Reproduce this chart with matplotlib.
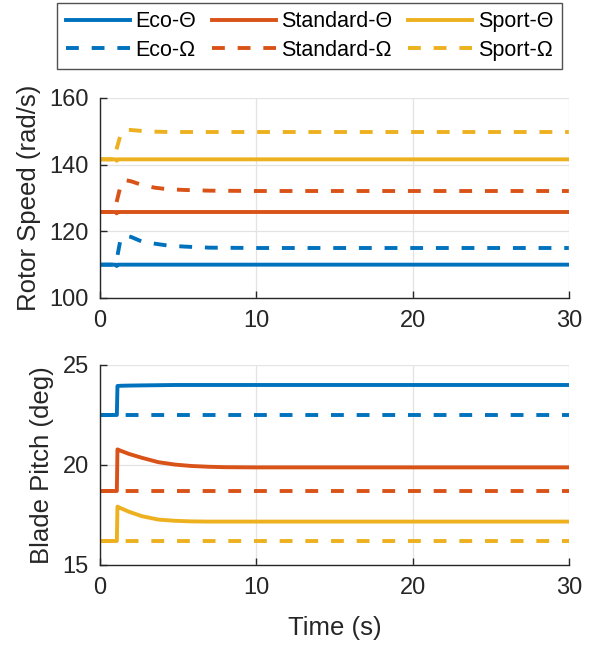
import numpy as np
import matplotlib
matplotlib.use("Agg")
import matplotlib.pyplot as plt

plt.rcParams['font.family'] = ['Liberation Sans', 'DejaVu Sans']

# Data
modes = ["Eco", "Standard", "Sport"]
colors = ["#0072BD", "#D95319", "#EDB120"]

# Rotor speed (rad/s)
t_theta_rs = [0, 1.0, 1.07, 1.15, 30]
theta_rs = {
    "Eco": [110.0, 110.0, 109.6, 110.0, 110.0],
    "Standard": [125.8, 125.8, 125.4, 125.8, 125.8],
    "Sport": [141.6, 141.6, 141.2, 141.6, 141.6],
}
t_omega_rs = [0, 1.0, 1.05, 1.3, 1.6, 2.0, 2.7, 3.5, 4.4, 5.5, 7, 10, 30]
omega_rs = {
    "Eco": [110.0, 110.0, 111.0, 117.2, 118.7, 118.3, 116.9, 116.3, 115.7, 115.4, 115.1, 115.0, 115.0],
    "Standard": [125.8, 125.8, 128.5, 133.3, 135.4, 135.0, 133.9, 133.1, 132.6, 132.4, 132.2, 132.1, 132.1],
    "Sport": [141.6, 141.6, 144.5, 148.6, 150.5, 150.4, 150.1, 149.9, 149.8, 149.8, 149.8, 149.8, 149.8],
}

# Blade pitch (deg)
t_pitch = [0, 1.08, 1.12, 1.3, 1.83, 2.68, 3.74, 4.8, 5.86, 7, 8, 10, 30]
theta_pitch = {
    "Eco": [22.5, 22.5, 23.95, 23.96, 23.97, 23.98, 23.99, 24.0, 24.0, 24.0, 24.0, 24.0, 24.0],
    "Standard": [18.7, 18.7, 20.78, 20.72, 20.56, 20.36, 20.14, 20.02, 19.95, 19.91, 19.89, 19.88, 19.88],
    "Sport": [16.2, 16.2, 17.92, 17.85, 17.67, 17.44, 17.27, 17.21, 17.18, 17.17, 17.17, 17.17, 17.17],
}
t_omega_pitch = [0, 30]
omega_pitch = {
    "Eco": [22.5, 22.5],
    "Standard": [18.7, 18.7],
    "Sport": [16.2, 16.2],
}

fig = plt.figure(figsize=(5.95, 6.46), dpi=100)
ax1 = fig.add_axes([0.168, 0.5387, 0.788, 0.3096])
ax2 = fig.add_axes([0.168, 0.1254, 0.788, 0.3096])

lw = 2.8
dash = (3.3, 3.3)
txt = "#262626"
handles = []
for m, c in zip(modes, colors):
    h2, = ax1.plot(t_omega_rs, omega_rs[m], color=c, lw=lw, ls=(0, dash), label=m + "-Ω")
    h1, = ax1.plot(t_theta_rs, theta_rs[m], color=c, lw=lw, label=m + "-Θ")
    ax2.plot(t_omega_pitch, omega_pitch[m], color=c, lw=lw, ls=(0, dash))
    ax2.plot(t_pitch, theta_pitch[m], color=c, lw=lw)
    handles += [h1, h2]

for ax, ylim, yt in [(ax1, (100, 160), [100, 120, 140, 160]), (ax2, (15, 25), [15, 20, 25])]:
    ax.set_xlim(0, 30)
    ax.set_ylim(*ylim)
    ax.set_xticks([0, 10, 20, 30])
    ax.set_yticks(yt)
    ax.grid(True, color="#e3e3e3", lw=0.9)
    ax.set_axisbelow(True)
    for s in ["top", "right"]:
        ax.spines[s].set_visible(False)
    for s in ["left", "bottom"]:
        ax.spines[s].set_color(txt)
        ax.spines[s].set_linewidth(1.0)
    ax.tick_params(direction="in", length=5, width=1, colors=txt, labelsize=17)
    ax.tick_params(axis="y", pad=8)
    ax.tick_params(axis="x", pad=9)

ax1.set_ylabel("Rotor Speed (rad/s)", fontsize=18.5, color=txt, labelpad=6)
ax2.set_ylabel("Blade Pitch (deg)", fontsize=18.5, color=txt, labelpad=6)
ax2.set_xlabel("Time (s)", fontsize=18.5, color=txt, labelpad=12)

leg = fig.legend(handles=handles, ncol=3, loc="upper center", bbox_to_anchor=(0.52, 0.996),
                 fontsize=15.5, frameon=True, fancybox=False, edgecolor=txt,
                 handlelength=3.0, handletextpad=0.25, columnspacing=0.7,
                 labelspacing=0.35, borderpad=0.4, borderaxespad=0)
leg.get_frame().set_linewidth(1.0)

fig.savefig("out.png", dpi=100)
